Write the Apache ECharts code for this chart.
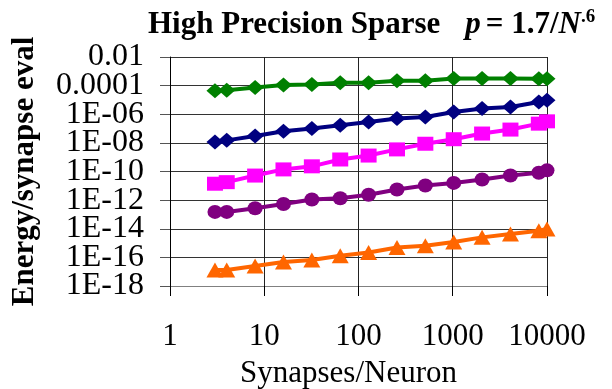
<!DOCTYPE html>
<html>
<head>
<meta charset="utf-8">
<script src="https://cdn.jsdelivr.net/npm/echarts@6/dist/echarts.min.js"></script>
<style>
html,body{margin:0;padding:0;background:#fff;}
#chart{width:612px;height:389px;}
</style>
</head>
<body>
<div id="chart"></div>
<script>
// Synapses per neuron (x values)
var synapses = [3, 4, 8, 16, 32, 64, 128, 256, 512, 1024, 2048, 4096, 8192, 10000];
// Energy per synapse evaluation, one array per series
var greenDiamond  = [4.4e-5, 4.8e-5, 7.4e-5, 1.1e-4, 1.2e-4, 1.6e-4, 1.6e-4, 2.2e-4, 2.2e-4, 3.2e-4, 3.2e-4, 3.2e-4, 3.0e-4, 3.0e-4];
var navyDiamond   = [1.15e-8, 1.5e-8, 3.0e-8, 6.5e-8, 1.0e-7, 1.7e-7, 2.9e-7, 5.0e-7, 6.5e-7, 1.45e-6, 2.5e-6, 3.2e-6, 7.2e-6, 9.5e-6];
var magentaSquare = [1.4e-11, 1.8e-11, 5.2e-11, 1.4e-10, 2.3e-10, 6.9e-10, 1.3e-9, 3.5e-9, 8.7e-9, 1.8e-8, 4.5e-8, 8.5e-8, 2.2e-7, 3.2e-7];
var purpleCircle  = [1.5e-13, 1.5e-13, 2.7e-13, 5.4e-13, 1.1e-12, 1.35e-12, 2.4e-12, 5.5e-12, 1.05e-11, 1.6e-11, 2.75e-11, 5.2e-11, 8.1e-11, 1.2e-10];
var orangeTriangle= [1.3e-17, 1.3e-17, 2.5e-17, 4.8e-17, 6.6e-17, 1.3e-16, 2.2e-16, 4.9e-16, 6.5e-16, 1.2e-15, 2.5e-15, 4.3e-15, 7.2e-15, 9.5e-15];
// Axis ranges and y tick label values (split into two alternating sets)
var xMin = 1, xMax = 10000;
var yMin = 1e-18, yMax = 0.01;
var yLabelsA = [1e-18, 1e-14, 1e-10, 1e-6, 1e-2];
var yLabelsB = [1e-16, 1e-12, 1e-8, 1e-4];

function pairs(ys){ return synapses.map(function(x,i){ return [x, ys[i]]; }); }

var FONT = 'Liberation Serif';
var chart = echarts.init(document.getElementById('chart'), null, {renderer:'canvas'});

function mk(name, data, color, symbol, size){
  return {
    name: name, type: 'line', data: pairs(data),
    symbol: symbol, symbolSize: size, showSymbol: true,
    lineStyle: {color: color, width: 4},
    itemStyle: {color: color},
    z: 3, animation: false
  };
}

function yFmt(v){
  var e = Math.round(Math.log10(v));
  if (e >= -4) return v.toFixed(-e);
  var a = -e; return '1E-' + (a < 10 ? '0' + a : a);
}

var yLabelStyle = {fontFamily: FONT, fontSize: 32, color: '#000', margin: 26,
  showMinLabel: true, showMaxLabel: true, hideOverlap: false, formatter: yFmt};

chart.setOption({
  animation: false,
  backgroundColor: '#fff',
  title: {
    left: 143, top: 3,
    text: '{a|High Precision Sparse}     {i|p} {a|= 1.7/}{i|N}{s|.6}',
    textStyle: {
      rich: {
        a: {fontFamily: FONT, fontWeight: 'bold', fontSize: 31, color: '#000'},
        i: {fontFamily: FONT, fontWeight: 'bold', fontStyle: 'italic', fontSize: 31, color: '#000'},
        s: {fontFamily: FONT, fontWeight: 'bold', fontSize: 19, color: '#000', verticalAlign: 'top', padding: [0,0,14,0]}
      }
    }
  },
  grid: {left: 170, right: 65, top: 57, bottom: 103, containLabel: false, outerBoundsMode: 'none'},
  xAxis: {
    type: 'log', logBase: 10, min: xMin, max: xMax,
    name: 'Synapses/Neuron', nameLocation: 'middle', nameGap: 72,
    nameTextStyle: {fontFamily: FONT, fontSize: 31, color: '#000', padding: [0, 20, 0, 0]},
    axisLine: {show: true, lineStyle: {color: '#808080', width: 1}},
    axisTick: {show: true, length: 10, inside: false, lineStyle: {color: '#000'}},
    axisLabel: {fontFamily: FONT, fontSize: 31, color: '#000', margin: 35,
      showMinLabel: true, showMaxLabel: true,
      formatter: function(v){ return String(Math.round(v)); }},
    splitLine: {show: true, lineStyle: {color: '#222', width: 1}},
    minorTick: {show: false}
  },
  yAxis: [{
    type: 'log', logBase: 100, min: yMin, max: yMax, position: 'left',
    name: 'Energy/synapse eval', nameLocation: 'middle', nameRotate: 90, nameGap: 130,
    nameTextStyle: {fontFamily: FONT, fontWeight: 'bold', fontSize: 31, color: '#000'},
    axisLine: {show: true, lineStyle: {color: '#000', width: 1}},
    axisTick: {show: true, length: 10, inside: false, lineStyle: {color: '#555'}},
    axisLabel: Object.assign({customValues: yLabelsA}, yLabelStyle),
    splitLine: {show: true, lineStyle: {color: '#333', width: 1}}
  }, {
    type: 'log', logBase: 100, min: yMin, max: yMax, position: 'left', offset: 0,
    axisLine: {show: false}, axisTick: {show: false}, splitLine: {show: false},
    axisLabel: Object.assign({customValues: yLabelsB}, yLabelStyle)
  }],
  series: [
    mk('green', greenDiamond, '#008000', 'diamond', [17, 15]),
    mk('navy', navyDiamond, '#000080', 'diamond', [17, 15]),
    mk('magenta', magentaSquare, '#FF00FF', 'rect', [16, 14]),
    mk('purple', purpleCircle, '#800080', 'circle', [15, 14]),
    mk('orange', orangeTriangle, '#FF6600', 'triangle', [17, 15])
  ]
});
</script>
</body>
</html>
